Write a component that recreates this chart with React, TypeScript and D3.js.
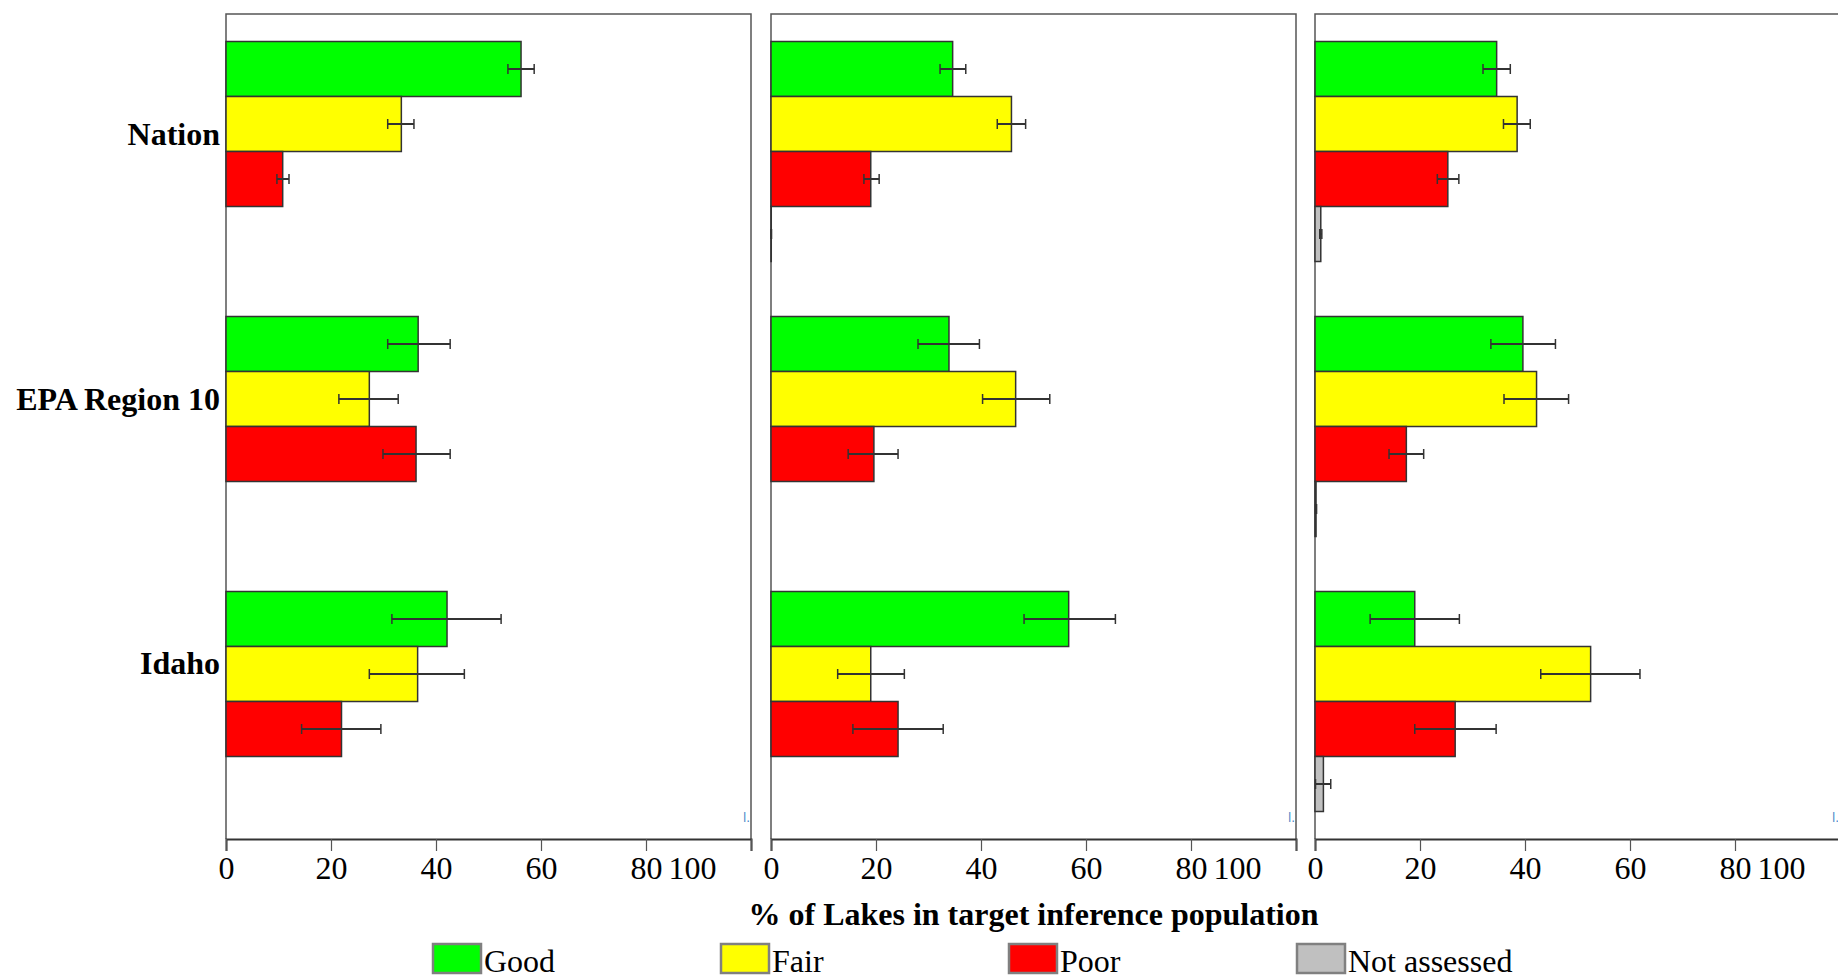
import { useEffect, useRef } from "react";
import * as d3 from "d3";

const categories = ["Nation", "EPA Region 10", "Idaho"];
const classes = ["Good", "Fair", "Poor", "Not assessed"];
const classColors = ["#00ff00", "#ffff00", "#ff0000", "#c0c0c0"];
const tickValues = [0, 20, 40, 60, 80, 100];

// rows = categories, columns = classes (null = no bar)
const p1Values = [
  [56.2, 33.4, 10.8, null],
  [36.6, 27.3, 36.2, null],
  [42.1, 36.5, 22.0, null],
];
const p1Lower = [
  [53.7, 30.8, 9.7, null],
  [30.8, 21.5, 29.9, null],
  [31.6, 27.3, 14.4, null],
];
const p1Upper = [
  [58.7, 35.8, 12.0, null],
  [42.7, 32.8, 42.7, null],
  [52.4, 45.4, 29.5, null],
];

const p2Values = [
  [34.6, 45.8, 19.0, 0.05],
  [33.9, 46.6, 19.6, null],
  [56.7, 19.0, 24.2, null],
];
const p2Lower = [
  [32.2, 43.1, 17.7, 0],
  [28.0, 40.3, 14.7, null],
  [48.2, 12.7, 15.6, null],
];
const p2Upper = [
  [37.1, 48.5, 20.6, 0.1],
  [39.7, 53.1, 24.2, null],
  [65.6, 25.4, 32.8, null],
];

const p3Values = [
  [34.6, 38.5, 25.3, 1.1],
  [39.6, 42.2, 17.4, 0.2],
  [19.0, 52.5, 26.7, 1.6],
];
const p3Lower = [
  [32.0, 35.9, 23.3, 0.9],
  [33.5, 36.0, 14.1, 0.1],
  [10.5, 43.0, 19.0, 0.1],
];
const p3Upper = [
  [37.2, 41.0, 27.4, 1.3],
  [45.8, 48.3, 20.7, 0.3],
  [27.5, 61.9, 34.5, 3.0],
];

const panels = [
  { values: p1Values, lower: p1Lower, upper: p1Upper },
  { values: p2Values, lower: p2Lower, upper: p2Upper },
  { values: p3Values, lower: p3Lower, upper: p3Upper },
];

export default function App() {
  const ref = useRef<HTMLDivElement>(null);

  useEffect(() => {
    const outerWidth = 1838;
    const outerHeight = 980;
    const panelLeft = [226, 771, 1315];
    const panelWidth = 525;
    const top = 14;
    const bottom = 839;
    const serif = "'Liberation Serif', 'Times New Roman', serif";

    const svg = d3
      .select(ref.current)
      .html("")
      .append("svg")
      .attr("width", outerWidth)
      .attr("height", outerHeight)
      .style("position", "absolute")
      .style("left", "0px")
      .style("top", "0px")
      .style("background", "#fff");

    const y = d3.scaleBand<string>().domain(categories).range([top, bottom]);
    const yInner = d3
      .scaleBand<string>()
      .domain(classes)
      .range([0, y.bandwidth()])
      .paddingInner(0)
      .paddingOuter(0.5);
    const color = d3.scaleOrdinal<string, string>().domain(classes).range(classColors);

    // category labels sit a little above each group's centre
    const yLabel = d3.scalePoint<string>().domain(categories).range([134, 663]);

    svg
      .append("g")
      .selectAll("text")
      .data(categories)
      .join("text")
      .attr("x", 220)
      .attr("y", (d) => yLabel(d)!)
      .attr("dy", "0.35em")
      .attr("text-anchor", "end")
      .attr("font-family", serif)
      .attr("font-weight", "bold")
      .attr("font-size", 32)
      .text((d) => d);

    panels.forEach((panel, pi) => {
      const x0 = panelLeft[pi];
      const x = d3.scaleLinear().domain([0, 100]).range([x0, x0 + panelWidth]);
      const g = svg.append("g");

      // frame
      g.append("path")
        .attr("d", `M${x(0)},${bottom} V${top} H${x(100)} V${bottom}`)
        .attr("fill", "none")
        .attr("stroke", "#555")
        .attr("stroke-width", 1.5);

      const rows = categories.flatMap((cat, ci) =>
        classes.map((cls, k) => ({
          cat,
          cls,
          v: panel.values[ci][k],
          lo: panel.lower[ci][k],
          hi: panel.upper[ci][k],
        }))
      ).filter((d) => d.v !== null) as {
        cat: string;
        cls: string;
        v: number;
        lo: number;
        hi: number;
      }[];

      g.selectAll("rect.bar")
        .data(rows)
        .join("rect")
        .attr("class", "bar")
        .attr("x", x(0))
        .attr("y", (d) => y(d.cat)! + yInner(d.cls)!)
        .attr("width", (d) => x(d.v) - x(0))
        .attr("height", yInner.bandwidth())
        .attr("fill", (d) => color(d.cls))
        .attr("stroke", "#333")
        .attr("stroke-width", 1.5);

      const cy = (d: { cat: string; cls: string }) =>
        y(d.cat)! + yInner(d.cls)! + yInner.bandwidth() / 2;

      const err = g.selectAll("g.err").data(rows).join("g").attr("class", "err");
      err
        .append("line")
        .attr("x1", (d) => x(d.lo))
        .attr("x2", (d) => x(d.hi))
        .attr("y1", cy)
        .attr("y2", cy)
        .attr("stroke", "#333")
        .attr("stroke-width", 2);
      [(d: any) => x(d.lo), (d: any) => x(d.hi)].forEach((fx) => {
        err
          .append("line")
          .attr("x1", fx)
          .attr("x2", fx)
          .attr("y1", (d) => cy(d) - 5)
          .attr("y2", (d) => cy(d) + 5)
          .attr("stroke", "#333")
          .attr("stroke-width", 1.5);
      });

      // little blue marker in the corner
      g.append("text")
        .attr("x", x(100) - 8)
        .attr("y", 822)
        .attr("font-family", "'DejaVu Sans', sans-serif")
        .attr("font-size", 12)
        .attr("fill", "#4a86c8")
        .text("l.");

      // x axis
      const axis = g
        .append("g")
        .attr("transform", `translate(0,${bottom})`)
        .call(d3.axisBottom(x).tickValues(tickValues).tickSizeOuter(0).tickSize(12));
      axis.select(".domain").attr("stroke", "#333").attr("stroke-width", 2);
      axis.selectAll(".tick line").attr("stroke", "#555").attr("stroke-width", 1.2);
      axis
        .selectAll<SVGTextElement, number>(".tick text")
        .attr("font-family", serif)
        .attr("font-size", 32)
        .attr("fill", "#000")
        .attr("y", 17)
        .attr("dy", "0.71em")
        .attr("text-anchor", (d) => (d === 100 ? "end" : "middle"))
        .attr("dx", (d) => (d === 100 ? -35 : 0));
    });

    // axis title
    svg
      .append("text")
      .attr("x", (panelLeft[1] + panelLeft[1] + panelWidth) / 2)
      .attr("y", 925)
      .attr("text-anchor", "middle")
      .attr("font-family", serif)
      .attr("font-weight", "bold")
      .attr("font-size", 32)
      .text("% of Lakes in target inference population");

    // legend
    const legendX = d3.scalePoint<string>().domain(classes).range([433, 1297]);
    const leg = svg
      .append("g")
      .selectAll("g")
      .data(classes)
      .join("g")
      .attr("transform", (d) => `translate(${legendX(d)},944)`);
    leg
      .append("rect")
      .attr("width", 48)
      .attr("height", 29)
      .attr("fill", (d) => color(d))
      .attr("stroke", "#808080")
      .attr("stroke-width", 2.5);
    leg
      .append("text")
      .attr("x", 51)
      .attr("y", 28)
      .attr("font-family", serif)
      .attr("font-size", 32)
      .text((d) => d);
  }, []);

  return <div ref={ref} />;
}
